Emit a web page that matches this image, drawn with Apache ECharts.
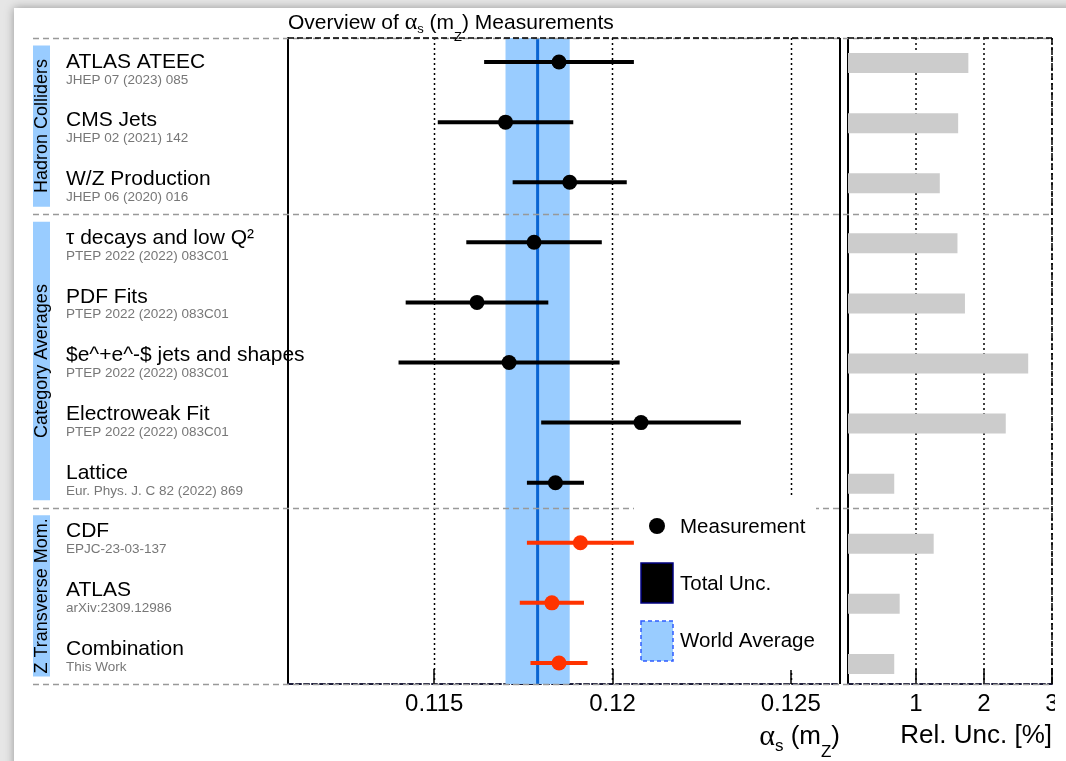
<!DOCTYPE html>
<html><head><meta charset="utf-8">
<script src="https://cdn.jsdelivr.net/npm/echarts@6/dist/echarts.min.js"></script>
<style>
html,body{margin:0;padding:0;width:1066px;height:761px;overflow:hidden;background:#e6e6e6;}
#card{position:absolute;left:14px;top:8px;width:1100px;height:800px;background:#fff;box-shadow:0 0 9px rgba(0,0,0,0.35);}
#chart{position:absolute;left:0;top:0;width:1066px;height:761px;}
</style></head><body><div id="card"></div><div id="chart"></div>
<script>
// ---------------- data ----------------
const names = ['ATLAS ATEEC', 'CMS Jets', 'W/Z Production', 'τ decays and low Q²', 'PDF Fits',
  '$e^+e^-$ jets and shapes', 'Electroweak Fit', 'Lattice', 'CDF', 'ATLAS', 'Combination'];
const refs = ['JHEP 07 (2023) 085', 'JHEP 02 (2021) 142', 'JHEP 06 (2020) 016', 'PTEP 2022 (2022) 083C01',
  'PTEP 2022 (2022) 083C01', 'PTEP 2022 (2022) 083C01', 'PTEP 2022 (2022) 083C01',
  'Eur. Phys. J. C 82 (2022) 869', 'EPJC-23-03-137', 'arXiv:2309.12986', 'This Work'];
const groupNames = ['Hadron Colliders', 'Category Averages', 'Z Transverse Mom.'];
const groupOf = [0, 0, 0, 1, 1, 1, 1, 1, 2, 2, 2];
const groupStartRow = [0, 3, 8, 11];
const values = [0.1185, 0.1170, 0.1188, 0.1178, 0.1162, 0.1171, 0.1208, 0.1184, 0.1191, 0.1183, 0.1185];
const errors = [0.0021, 0.0019, 0.0016, 0.0019, 0.0020, 0.0031, 0.0028, 0.0008, 0.0015, 0.0009, 0.0008];
const relUnc = [1.77, 1.62, 1.35, 1.61, 1.72, 2.65, 2.32, 0.68, 1.26, 0.76, 0.68];
const worldAvg = 0.1179;
const worldErr = 0.0009;
const tickVals = [0.115, 0.12, 0.125];
const tickLabels = ['0.115', '0.12', '0.125'];
const relTickVals = [1, 2, 3];
const relTickLabels = ['1', '2', '3'];

// ---------------- layout / style ----------------
const FONT = 'Liberation Sans, Arial, Helvetica, sans-serif';
const YMIN = -0.4, YMAX = 10.35;
const NROW = names.length;
const rowH = (YMAX - YMIN) / NROW;            // label rows split the panel evenly
const rowCenter = k => YMIN + (k + 0.5) * rowH;
const rowEdge = k => YMIN + k * rowH;
const BAND = '#99ccff';
const RED = '#ff3300';
const colorOf = g => (g === 2 ? RED : '#000000');

const chart = echarts.init(document.getElementById('chart'));

const errData = values.map((v, i) => [i, v - errors[i], v + errors[i], groupOf[i]]);
const ptData = values.map((v, i) => ({ value: [v, i], itemStyle: { color: colorOf(groupOf[i]), opacity: 1 } }));
const relData = relUnc.map((r, i) => [i, r]);
const labelPos = names.map((_, k) => rowCenter(k));

const option = {
  animation: false,
  grid: [
    { left: 288, right: 226, top: 38, bottom: 77 },
    { left: 848, right: 14, top: 38, bottom: 77 }
  ],
  xAxis: [
    {
      gridIndex: 0, type: 'value', min: 0.1109, max: 0.12638,
      axisLine: { show: true, onZero: false, lineStyle: { color: '#1c1c3a', width: 2, type: [5, 3] } },
      axisTick: { show: true, inside: true, length: 15, customValues: tickVals, lineStyle: { color: '#000', width: 1.5 } },
      axisLabel: {
        customValues: tickVals, fontSize: 24, color: '#000', fontFamily: FONT, margin: 8,
        formatter: v => { const k = tickVals.findIndex(t => Math.abs(t - v) < 1e-9); return k >= 0 ? tickLabels[k] : ''; }
      },
      splitLine: { show: false }
    },
    {
      gridIndex: 1, type: 'value', min: 0, max: 3, interval: 1,
      axisLine: { show: true, onZero: false, lineStyle: { color: '#1c1c3a', width: 2, type: [5, 3] } },
      axisTick: { show: true, inside: true, length: 15, customValues: relTickVals, lineStyle: { color: '#000', width: 1.5 } },
      axisLabel: {
        customValues: relTickVals, fontSize: 24, color: '#000', fontFamily: FONT, margin: 8,
        formatter: v => { const k = relTickVals.indexOf(v); return k >= 0 ? relTickLabels[k] : ''; }
      },
      splitLine: { show: true, lineStyle: { type: [2, 3], color: '#000', width: 1.5 } }
    }
  ],
  yAxis: [
    {
      gridIndex: 0, type: 'value', inverse: true, min: YMIN, max: YMAX,
      axisLine: { show: true, onZero: false, lineStyle: { color: '#000', width: 2 } },
      axisTick: { show: false }, splitLine: { show: false },
      axisLabel: {
        show: true, customValues: labelPos, align: 'left', margin: 222,
        padding: [3, 0, 0, 0],
        formatter: v => { const i = Math.round((v - YMIN) / rowH - 0.5); return '{n|' + names[i] + '}\n{r|' + refs[i] + '}'; },
        rich: {
          n: { fontSize: 21, color: '#000', fontFamily: FONT, lineHeight: 22 },
          r: { fontSize: 13.5, color: '#777', fontFamily: FONT, lineHeight: 14 }
        }
      }
    },
    {
      gridIndex: 1, type: 'value', inverse: true, min: YMIN, max: YMAX,
      axisLine: { show: true, onZero: false, lineStyle: { color: '#000', width: 2 } },
      axisTick: { show: false }, splitLine: { show: false }, axisLabel: { show: false }
    }
  ],
  series: [
    {
      name: 'band', type: 'custom', xAxisIndex: 0, yAxisIndex: 0, z: 1, silent: true,
      data: [[worldAvg - worldErr, worldAvg + worldErr, worldAvg]],
      encode: { x: [0, 1, 2] },
      renderItem: (params, api) => {
        const cs = params.coordSys;
        const a = api.coord([api.value(0), 0]);
        const b = api.coord([api.value(1), 0]);
        const c = api.coord([api.value(2), 0]);
        return { type: 'group', children: [
          { type: 'rect', shape: { x: a[0], y: cs.y, width: b[0] - a[0], height: cs.height }, style: { fill: BAND } },
          { type: 'line', shape: { x1: c[0], y1: cs.y, x2: c[0], y2: cs.y + cs.height }, style: { stroke: '#0a64d2', lineWidth: 3 } }
        ] };
      }
    },
    {
      name: 'grid', type: 'custom', xAxisIndex: 0, yAxisIndex: 0, z: 1, silent: true,
      data: tickVals.map(t => [t]), encode: { x: 0 },
      renderItem: (params, api) => {
        const cs = params.coordSys;
        const c = api.coord([api.value(0), 0]);
        const x = Math.round(c[0]) + 0.5;
        return { type: 'line', shape: { x1: x, y1: cs.y, x2: x, y2: cs.y + cs.height }, style: { stroke: '#000', lineWidth: 1.5, lineDash: [2, 3] } };
      }
    },
    {
      name: 'errors', type: 'custom', xAxisIndex: 0, yAxisIndex: 0, z: 10, silent: true,
      data: errData, encode: { x: [1, 2], y: 0 },
      renderItem: (params, api) => {
        const i = api.value(0);
        const a = api.coord([api.value(1), i]);
        const b = api.coord([api.value(2), i]);
        return { type: 'line', shape: { x1: a[0], y1: a[1], x2: b[0], y2: b[1] }, style: { stroke: colorOf(api.value(3)), lineWidth: 4 } };
      }
    },
    {
      name: 'Measurement', type: 'scatter', xAxisIndex: 0, yAxisIndex: 0, z: 11, silent: true,
      symbol: 'circle', symbolSize: 15, itemStyle: { opacity: 1 }, data: ptData
    },
    {
      name: 'rel', type: 'custom', xAxisIndex: 1, yAxisIndex: 1, z: 3, silent: true,
      data: relData, encode: { x: 1, y: 0 },
      renderItem: (params, api) => {
        const i = api.value(0);
        const a = api.coord([0, i]);
        const b = api.coord([api.value(1), i]);
        const h = 20;
        return { type: 'rect', shape: { x: a[0], y: a[1] - h / 2 + 1, width: b[0] - a[0], height: h }, style: { fill: '#cccccc' } };
      }
    }
  ]
};
chart.setOption(option);

// ------------- decorations positioned from the axes -------------
const yPix = v => chart.convertToPixel({ yAxisIndex: 0 }, v);
const xPix = v => chart.convertToPixel({ xAxisIndex: 0 }, v);
const xMin = xPix(0.1109), xMax = xPix(0.12638);
const rLeft = chart.convertToPixel({ xAxisIndex: 1 }, 0), rRight = chart.convertToPixel({ xAxisIndex: 1 }, 3);
const yTop = yPix(YMIN), yBot = yPix(YMAX);
const els = [];
groupStartRow.forEach(r => {
  const y = Math.round(yPix(rowEdge(r))) + 0.5;
  els.push({ type: 'line', z: 3, silent: true, shape: { x1: 33, y1: y, x2: rRight, y2: y }, style: { stroke: '#999', lineWidth: 1.5, lineDash: [6, 4] } });
});
// panel frames
els.push({ type: 'line', z: 4, shape: { x1: xMin, y1: yTop, x2: xMax, y2: yTop }, style: { stroke: '#000', lineWidth: 1.5, lineDash: [6, 3] } });
els.push({ type: 'line', z: 4, shape: { x1: xMax, y1: yTop, x2: xMax, y2: yBot }, style: { stroke: '#000', lineWidth: 2 } });
els.push({ type: 'line', z: 4, shape: { x1: rLeft, y1: yTop, x2: rRight, y2: yTop }, style: { stroke: '#000', lineWidth: 1.5, lineDash: [6, 3] } });
els.push({ type: 'line', z: 4, shape: { x1: rRight, y1: yTop, x2: rRight, y2: yBot }, style: { stroke: '#000', lineWidth: 1.5, lineDash: [6, 3] } });
// original canvas ends just right of the last panel: its last tick label is clipped
els.push({ type: 'rect', z: 7, shape: { x: rRight + 3, y: yBot + 4, width: 40, height: 34 }, style: { fill: '#fff' } });
// group labels
groupNames.forEach((g, k) => {
  const y0 = yPix(rowEdge(groupStartRow[k])) + 7.5, y1 = yPix(rowEdge(groupStartRow[k + 1])) - 7.5;
  els.push({ type: 'rect', z: 3, shape: { x: 33, y: y0, width: 17, height: y1 - y0 }, style: { fill: BAND } });
  els.push({ type: 'text', z: 4, x: 42, y: (y0 + y1) / 2, rotation: Math.PI / 2,
    style: { text: g, fontSize: 18, fontFamily: FONT, fill: '#000', align: 'center', verticalAlign: 'middle' } });
});
// legend
els.push({ type: 'rect', z: 5, shape: { x: 634, y: 497, width: 182, height: 173 }, style: { fill: '#fff' } });
els.push({ type: 'circle', z: 6, shape: { cx: 657, cy: 526, r: 8 }, style: { fill: '#000' } });
els.push({ type: 'text', z: 6, x: 680, y: 527, style: { text: 'Measurement', fontSize: 20.5, fontFamily: FONT, fill: '#000', verticalAlign: 'middle' } });
els.push({ type: 'rect', z: 6, shape: { x: 641, y: 563, width: 32, height: 40 }, style: { fill: '#000', stroke: '#000080', lineWidth: 1.5 } });
els.push({ type: 'text', z: 6, x: 680, y: 584, style: { text: 'Total Unc.', fontSize: 20.5, fontFamily: FONT, fill: '#000', verticalAlign: 'middle' } });
els.push({ type: 'rect', z: 6, shape: { x: 641, y: 621, width: 32, height: 40 }, style: { fill: BAND, stroke: '#2f5cff', lineWidth: 1.5, lineDash: [4, 3] } });
els.push({ type: 'text', z: 6, x: 680, y: 641, style: { text: 'World Average', fontSize: 20.5, fontFamily: FONT, fill: '#000', verticalAlign: 'middle' } });
// title
els.push({ type: 'text', z: 6, x: 288, y: 23, style: {
  text: 'Overview of {g|α}{s|s} (m{z|Z}) Measurements', fontSize: 21, fontFamily: FONT, fill: '#000', verticalAlign: 'middle',
  rich: { g: { fontSize: 24, fontFamily: 'Liberation Serif, serif', fill: '#000', lineHeight: 26 },
          s: { fontSize: 13, fontFamily: FONT, fill: '#000', lineHeight: 13, verticalAlign: 'bottom', padding: [0, 0, 8, 0] },
          z: { fontSize: 13, fontFamily: FONT, fill: '#000', lineHeight: 41, verticalAlign: 'bottom' } } } });
// axis titles
els.push({ type: 'text', z: 6, x: 840, y: 737, style: {
  text: '{g|α}{s|s} (m{z|Z})', fontSize: 26, fontFamily: FONT, fill: '#000', align: 'right', verticalAlign: 'middle',
  rich: { g: { fontSize: 30, fontFamily: 'Liberation Serif, serif', fill: '#000', lineHeight: 34 },
          s: { fontSize: 17, fontFamily: FONT, fill: '#000', lineHeight: 17, verticalAlign: 'bottom', padding: [0, 0, 6, 0] },
          z: { fontSize: 17, fontFamily: FONT, fill: '#000', lineHeight: 48, verticalAlign: 'bottom' } } } });
els.push({ type: 'text', z: 6, x: 1052, y: 736, style: { text: 'Rel. Unc. [%]', fontSize: 26, fontFamily: FONT, fill: '#000', align: 'right', verticalAlign: 'middle' } });

chart.setOption({ graphic: { elements: els } });
</script>
</body></html>
